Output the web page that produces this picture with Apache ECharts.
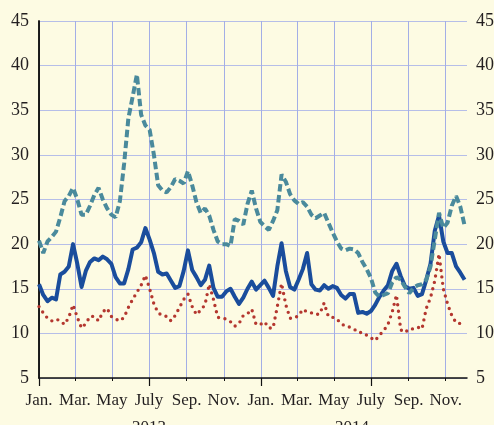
<!DOCTYPE html>
<html>
<head>
<meta charset="utf-8">
<script src="https://cdn.jsdelivr.net/npm/echarts@6/dist/echarts.min.js"></script>
<style>
html,body{margin:0;padding:0;background:#fdfbe3;}
#c{width:494px;height:425px;}
</style>
</head>
<body>
<div id="c"></div>
<script>
// Weekly observation dates
var weekDates = [
'2013-01-01','2013-01-08','2013-01-15','2013-01-22','2013-01-29','2013-02-05','2013-02-12','2013-02-19','2013-02-26',
'2013-03-05','2013-03-12','2013-03-19','2013-03-26','2013-04-02','2013-04-09','2013-04-16','2013-04-23','2013-04-30',
'2013-05-07','2013-05-14','2013-05-21','2013-05-28','2013-06-04','2013-06-11','2013-06-18','2013-06-25',
'2013-07-02','2013-07-09','2013-07-16','2013-07-23','2013-07-30','2013-08-06','2013-08-13','2013-08-20','2013-08-27',
'2013-09-03','2013-09-10','2013-09-17','2013-09-24','2013-10-01','2013-10-08','2013-10-15','2013-10-22','2013-10-29',
'2013-11-05','2013-11-12','2013-11-19','2013-11-26','2013-12-03','2013-12-10','2013-12-17','2013-12-24','2013-12-31',
'2014-01-07','2014-01-14','2014-01-21','2014-01-28','2014-02-04','2014-02-11','2014-02-18','2014-02-25',
'2014-03-04','2014-03-11','2014-03-18','2014-03-25','2014-04-01','2014-04-08','2014-04-15','2014-04-22','2014-04-29',
'2014-05-06','2014-05-13','2014-05-20','2014-05-27','2014-06-03','2014-06-10','2014-06-17','2014-06-24',
'2014-07-01','2014-07-08','2014-07-15','2014-07-22','2014-07-29','2014-08-05','2014-08-12','2014-08-19','2014-08-26',
'2014-09-02','2014-09-09','2014-09-16','2014-09-23','2014-09-30','2014-10-07','2014-10-14','2014-10-21','2014-10-28',
'2014-11-04','2014-11-11','2014-11-18','2014-11-25','2014-12-02'
];

// Solid dark blue series
var solidBlue = [
15.5,14.3,13.6,14.0,13.8,16.6,16.9,17.5,20.0,17.8,15.2,17.0,18.0,18.4,18.2,18.6,18.3,17.8,16.3,15.6,
15.6,17.2,19.4,19.6,20.2,21.8,20.5,19.0,16.9,16.6,16.7,15.9,15.1,15.3,17.0,19.3,17.1,16.3,15.4,16.0,
17.6,15.1,14.1,14.1,14.7,15.0,14.1,13.3,14.0,15.0,15.8,14.9,15.4,15.9,15.1,14.2,17.5,20.1,17.0,15.2,
14.9,16.0,17.2,19.0,15.5,14.9,14.8,15.4,15.0,15.3,15.1,14.3,13.9,14.4,14.4,12.3,12.4,12.2,12.5,13.2,
14.1,14.8,15.4,17.0,17.8,16.4,15.3,15.0,15.1,14.2,14.4,16.0,17.8,21.5,23.2,20.3,19.0,19.0,17.5,16.8,
16.0
];

// Dashed teal series
var dashedTeal = [
20.4,19.0,20.3,20.8,21.4,23.0,24.8,25.4,26.3,25.0,23.3,23.3,24.3,25.5,26.3,25.0,24.0,23.3,23.0,24.8,
29.0,34.1,36.5,39.0,34.5,33.3,32.8,30.0,26.6,26.0,25.8,26.4,27.3,27.1,26.8,28.2,26.6,24.7,23.5,24.0,
23.2,21.6,20.3,20.0,20.0,19.8,22.8,22.6,22.2,24.5,26.0,24.0,22.5,22.0,21.6,22.6,23.8,27.8,27.0,25.6,
24.9,24.5,24.7,24.2,23.3,22.9,23.2,23.5,22.4,21.3,20.3,19.5,19.3,19.5,19.4,19.0,18.0,17.2,16.2,14.6,
14.1,14.3,14.5,15.7,16.3,16.0,15.2,14.5,15.1,15.4,15.5,16.0,17.5,20.5,23.5,21.8,22.4,24.3,25.4,24.2,
22.1
];

// Dotted red series
var dottedRed = [
13.0,12.3,11.7,11.4,11.6,11.4,11.0,11.8,13.2,11.8,10.6,11.1,11.9,11.9,11.4,12.4,12.8,11.9,11.6,11.4,
11.8,12.9,13.8,14.6,15.4,16.5,15.0,13.3,12.3,12.0,11.9,11.4,12.0,12.9,13.8,14.4,13.0,12.1,12.6,13.2,
15.5,13.8,11.8,11.7,11.6,11.3,10.8,11.1,12.0,12.2,12.7,11.0,11.0,11.3,10.6,10.6,13.0,15.6,13.2,11.7,
11.7,12.0,12.7,12.4,12.3,12.1,12.2,13.4,11.9,11.8,11.6,11.1,10.8,10.7,10.5,10.1,10.1,9.8,9.5,9.2,
9.8,10.3,11.0,12.4,14.3,10.4,10.1,10.5,10.5,10.7,10.5,12.8,14.0,15.9,18.9,15.0,13.3,12.0,11.2,11.1,
11.5
];

// Axis ticks and labels
var monthTicks = ['2013-01-01','2013-03-01','2013-05-01','2013-07-01','2013-09-01','2013-11-01',
                  '2014-01-01','2014-03-01','2014-05-01','2014-07-01','2014-09-01','2014-11-01'];
var monthLabels = ['Jan.','Mar.','May','July','Sep.','Nov.','Jan.','Mar.','May','July','Sep.','Nov.'];
var majorTicks = ['2013-01-01','2013-07-01','2014-01-01','2014-07-01'];
var yearLabelPos = ['2013-07-01','2014-05-31'];
var yearLabels = ['2013','2014'];
var axisStart = '2013-01-01';
var axisEnd = '2014-12-06';
var yTicks = [5,10,15,20,25,30,35,40,45];

// date string -> day number since axisStart (x axis is a value axis in days)
function dayNum(s){
  var p = s.split('-'), q = axisStart.split('-');
  return Math.round((Date.UTC(+p[0], +p[1]-1, +p[2]) - Date.UTC(+q[0], +q[1]-1, +q[2])) / 86400000);
}
function pairs(vals){ return weekDates.map(function(d,i){ return [dayNum(d), vals[i]]; }); }

var monthTickDays = monthTicks.map(dayNum);
var majorTickDays = majorTicks.map(dayNum);
var yearDays = yearLabelPos.map(dayNum);

function labelFor(days, labels){
  return function(v){
    var best = 0, bd = Infinity;
    for (var i=0;i<days.length;i++){ var d = Math.abs(days[i]-v); if (d<bd){bd=d;best=i;} }
    return labels[best];
  };
}

var font = '"Liberation Serif", "Times New Roman", serif';
var txtColor = '#231f20';

var chart = echarts.init(document.getElementById('c'), null, {renderer:'canvas'});
chart.setOption({
  animation: false,
  backgroundColor: '#fdfbe3',
  grid: {left: 39, right: 27, top: 21, bottom: 47, containLabel: false, outerBoundsMode: 'none'},
  xAxis: [{
    type: 'value',
    min: 0, max: dayNum(axisEnd),
    position: 'bottom',
    axisLine: {show: true, onZero: false, lineStyle: {color: '#111', width: 1.5}},
    axisTick: {show: true, customValues: monthTickDays, length: 3, lineStyle: {color: '#111', width: 1}},
    axisLabel: {customValues: monthTickDays, formatter: labelFor(monthTickDays, monthLabels),
                fontFamily: font, fontSize: 17, color: txtColor, margin: 14, hideOverlap: false},
    splitLine: {show: true, lineStyle: {color: '#a3aee6', width: 1}}
  },{
    type: 'value',
    min: 0, max: dayNum(axisEnd),
    position: 'bottom',
    axisLine: {show: false, onZero: false},
    axisTick: {show: true, customValues: majorTickDays, length: 8, lineStyle: {color: '#111', width: 1.2}},
    axisLabel: {customValues: yearDays, formatter: labelFor(yearDays, yearLabels),
                fontFamily: font, fontSize: 17, color: txtColor, margin: 41, hideOverlap: false},
    splitLine: {show: false}
  }],
  yAxis: [{
    type: 'value', min: 5, max: 45, interval: 5, position: 'left',
    axisLine: {show: true, lineStyle: {color: '#111', width: 1.5}},
    axisTick: {show: false},
    axisLabel: {fontFamily: font, fontSize: 18, color: txtColor, margin: 10,
                formatter: function(v){ return yTicks.indexOf(v) >= 0 ? String(v) : ''; }},
    splitLine: {show: true, lineStyle: {color: '#b6bee8', width: 1}}
  },{
    type: 'value', min: 5, max: 45, interval: 5, position: 'right',
    axisLine: {show: true, lineStyle: {color: '#111', width: 1.5}},
    axisTick: {show: false},
    axisLabel: {fontFamily: font, fontSize: 18, color: txtColor, margin: 9,
                formatter: function(v){ return yTicks.indexOf(v) >= 0 ? String(v) : ''; }},
    splitLine: {show: false}
  }],
  series: [{
    name: 'red', type: 'line', data: pairs(dottedRed), showSymbol: false, smooth: false,
    lineStyle: {color: '#b4372f', width: 3.4, type: [0, 6.5], cap: 'round', join: 'round'}, z: 2
  },{
    name: 'blue', type: 'line', data: pairs(solidBlue), showSymbol: false, smooth: false,
    lineStyle: {color: '#1a4d9c', width: 4, join: 'round'}, z: 3
  },{
    name: 'teal', type: 'line', data: pairs(dashedTeal), showSymbol: false, smooth: false,
    lineStyle: {color: '#4a8a9c', width: 4, type: [7.5, 3.5], cap: 'butt'}, z: 4
  }]
});
</script>
</body>
</html>
